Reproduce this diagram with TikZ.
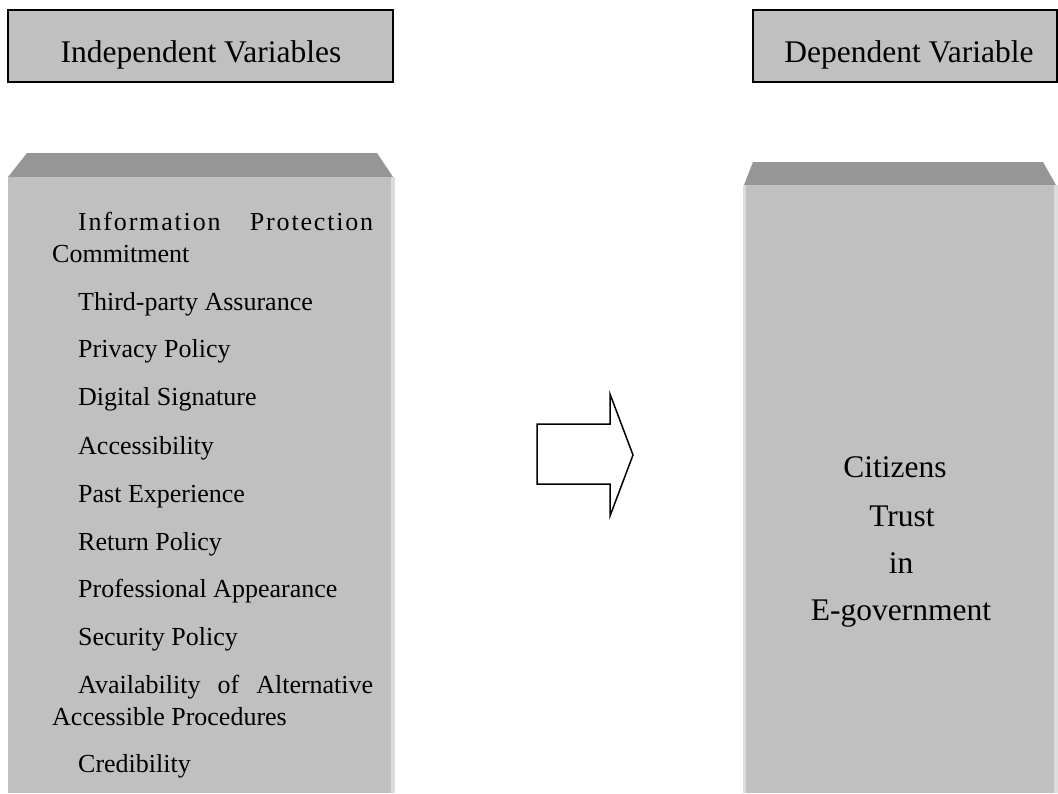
\documentclass[tikz,border=0pt]{standalone}
\usepackage{fontspec}
\setmainfont{Liberation Serif}
\newfontfamily\spacedfont[LetterSpace=7]{Liberation Serif}
\definecolor{boxgray}{HTML}{C0C0C0}
\definecolor{topgray}{HTML}{969696}
\definecolor{edgegray}{HTML}{DCDCDC}
\begin{document}
\begin{tikzpicture}[x=1pt,y=-1pt,
  header/.style={draw=black,line width=1.5pt,fill=boxgray},
  headtext/.style={anchor=base,inner sep=0pt,font=\fontsize{31.5}{38}\selectfont},
  item/.style={anchor=base west,inner sep=0pt,font=\fontsize{26}{32}\selectfont},
  bigtext/.style={anchor=base,inner sep=0pt,font=\fontsize{31.5}{38}\selectfont}]
\useasboundingbox (0,0) rectangle (1058,793);
% headers
\draw[header] (8,10) rectangle (393,82);
\node[headtext] (indep) at (201,62) {Independent Variables};
\draw[header] (753,10) rectangle (1057,82);
\node[headtext] (dep) at (909,62) {Dependent Variable};
% left column
\fill[topgray] (27,153) -- (377,153) -- (393,177) -- (8,177) -- cycle;
\fill[boxgray] (8,177) rectangle (393,793);
\fill[edgegray] (391,177) rectangle (395,793);
% right column
\fill[topgray] (753,162) -- (1043,162) -- (1056,185) -- (744,185) -- cycle;
\fill[boxgray] (744,185) rectangle (1056,793);
\fill[edgegray] (743,185) rectangle (746,793);
\fill[edgegray] (1054,185) rectangle (1058,793);
% list
\node[item] (i1a) at (78,230) {\makebox[295pt][s]{\spacedfont Information Protection}};
\node[item] (i1b) at (52,262) {Commitment};
\node[item] (i2) at (78,310) {Third-party Assurance};
\node[item] (i3) at (78,357) {Privacy Policy};
\node[item] (i4) at (78,405) {Digital Signature};
\node[item] (i5) at (78,454) {Accessibility};
\node[item] (i6) at (78,502) {Past Experience};
\node[item] (i7) at (78,550) {Return Policy};
\node[item] (i8) at (78,597) {Professional Appearance};
\node[item] (i9) at (78,645) {Security Policy};
\node[item] (i10a) at (78,693) {\makebox[295pt][s]{Availability of Alternative}};
\node[item] (i10b) at (52,725) {Accessible Procedures};
\node[item] (i11) at (78,772) {Credibility};
% right text
\node[bigtext] (t1) at (895,477) {Citizens};
\node[bigtext] (t2) at (902,526) {Trust};
\node[bigtext] (t3) at (901,573) {in};
\node[bigtext] (t4) at (901,620) {E-government};
% arrow
\draw[line width=1.5pt,fill=white,line join=miter] (537,424) -- (610,424) -- (610,394) -- (633,455) -- (610,516) -- (610,484) -- (537,484) -- cycle;
\end{tikzpicture}
\end{document}
